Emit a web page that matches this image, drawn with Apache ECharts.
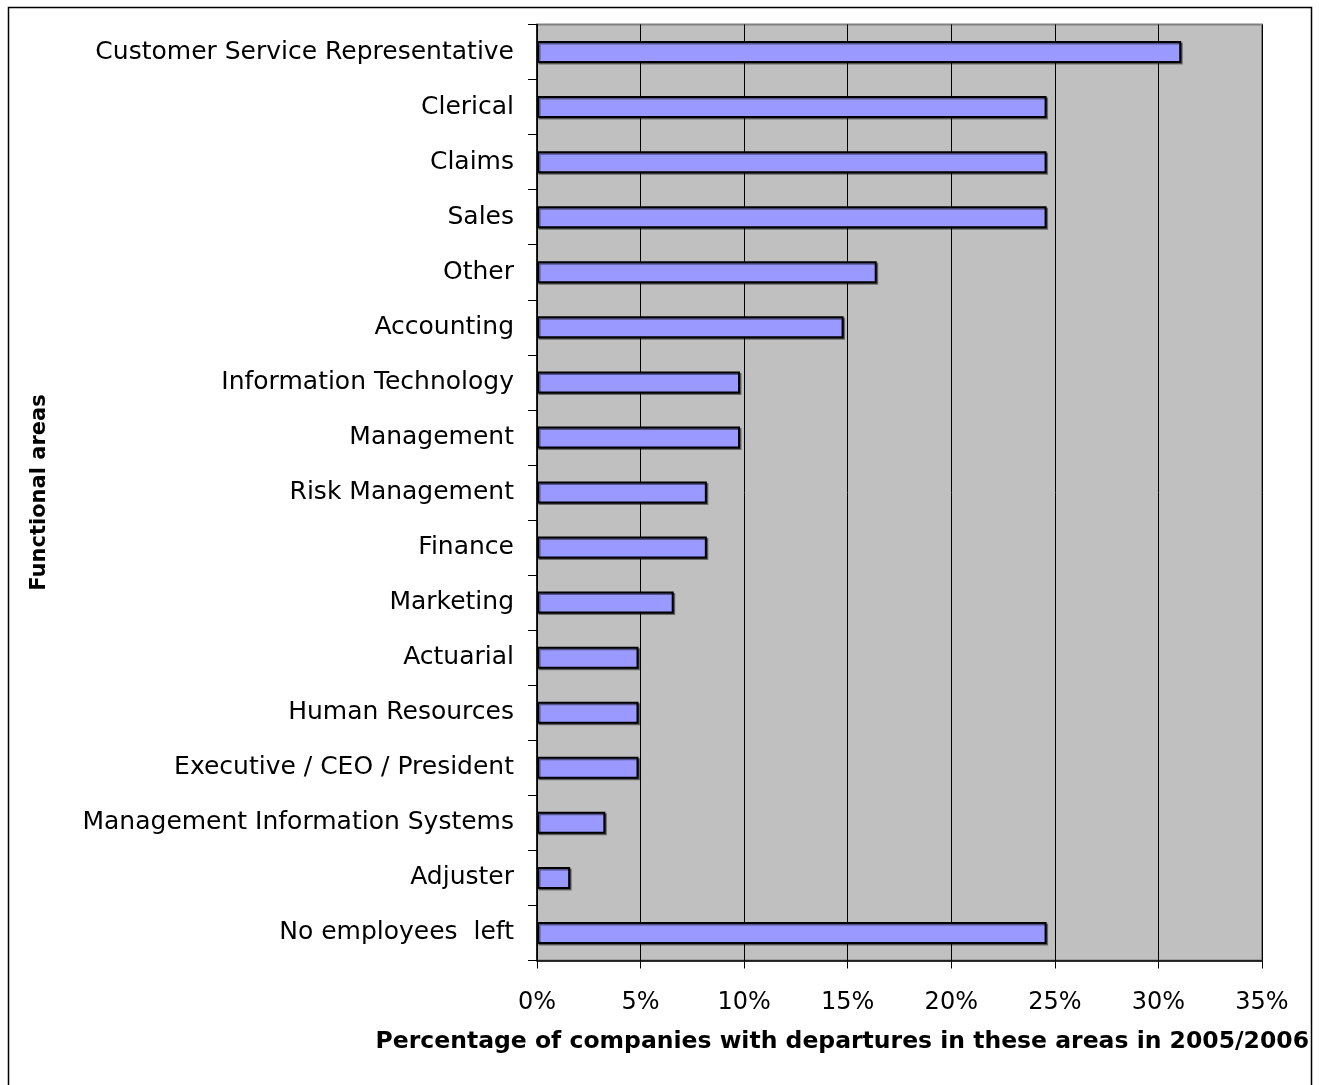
<!DOCTYPE html>
<html>
<head>
<meta charset="utf-8">
<title>Departures by functional area</title>
<script src="https://cdn.jsdelivr.net/npm/echarts@6/dist/echarts.min.js"></script>
<style>
  html, body { margin: 0; padding: 0; background: #ffffff; }
  #chart { width: 1319px; height: 1085px; }
</style>
</head>
<body>
<div id="chart"></div>
<script>
// Functional areas, listed top to bottom
const categories = [
  'Customer Service Representative',
  'Clerical',
  'Claims',
  'Sales',
  'Other',
  'Accounting',
  'Information Technology',
  'Management',
  'Risk Management',
  'Finance',
  'Marketing',
  'Actuarial',
  'Human Resources',
  'Executive / CEO / President',
  'Management Information Systems',
  'Adjuster',
  'No employees  left'
];

// Percentage of companies with departures in each area
const percentValues = [
  31.1, 24.6, 24.6, 24.6, 16.4, 14.8, 9.8, 9.8,
  8.2, 8.2, 6.6, 4.9, 4.9, 4.9, 3.3, 1.6, 24.6
];

// Value axis range and step (percent)
const axisMin = 0;
const axisMax = 35;
const axisStep = 5;

const xAxisTitle = 'Percentage of companies with departures in these areas in 2005/2006';
const yAxisTitle = 'Functional areas';

const FONT = '"DejaVu Sans", "Liberation Sans", Arial, sans-serif';

const chart = echarts.init(document.getElementById('chart'), null, { renderer: 'canvas' });

chart.setOption({
  backgroundColor: '#ffffff',
  animation: false,
  textStyle: { fontFamily: FONT },
  grid: {
    left: 537,
    right: 57,
    top: 24.5,
    bottom: 124.5,
    show: true,
    backgroundColor: '#c0c0c0',
    borderColor: '#808080',
    borderWidth: 2
  },
  graphic: [
    {
      type: 'rect',
      shape: { x: 8.5, y: 7.5, width: 1303, height: 1100 },
      style: { fill: 'none', stroke: '#000000', lineWidth: 1.5 },
      silent: true,
      z: 100
    },
    {
      type: 'text',
      right: 10,
      top: 1030,
      style: {
        text: xAxisTitle,
        font: 'bold 23.5px ' + FONT,
        fill: '#000000'
      }
    }
  ],
  xAxis: {
    type: 'value',
    min: axisMin,
    max: axisMax,
    interval: axisStep,
    axisLine: { show: true, lineStyle: { color: '#000000', width: 1.5 } },
    axisTick: { show: true, length: 8, lineStyle: { color: '#000000', width: 1 } },
    axisLabel: {
      margin: 30,
      fontSize: 24,
      color: '#000000',
      fontFamily: FONT,
      formatter: v => v + '%'
    },
    splitLine: { show: true, lineStyle: { color: '#000000', width: 1 } }
  },
  yAxis: {
    type: 'category',
    data: categories,
    inverse: true,
    name: yAxisTitle,
    nameLocation: 'middle',
    nameRotate: 90,
    nameGap: 487,
    nameTextStyle: { fontSize: 21, fontWeight: 'bold', color: '#000000', fontFamily: FONT },
    axisLine: { show: true, lineStyle: { color: '#000000', width: 1.5 } },
    axisTick: { show: true, length: 9, interval: 0, lineStyle: { color: '#000000', width: 1 } },
    axisLabel: {
      interval: 0,
      margin: 23,
      fontSize: 25,
      lineHeight: 30,
      padding: [14, 0, 0, 0],
      color: '#000000',
      fontFamily: FONT
    },
    splitLine: { show: false }
  },
  series: [
    {
      type: 'bar',
      data: percentValues,
      barWidth: 22,
      itemStyle: {
        color: '#9999ff',
        borderColor: '#000000',
        borderWidth: 2,
        shadowColor: 'rgba(0,0,0,0.45)',
        shadowOffsetX: 1.5,
        shadowOffsetY: 1.5,
        shadowBlur: 0
      },
      emphasis: { disabled: true }
    }
  ]
});
</script>
</body>
</html>
